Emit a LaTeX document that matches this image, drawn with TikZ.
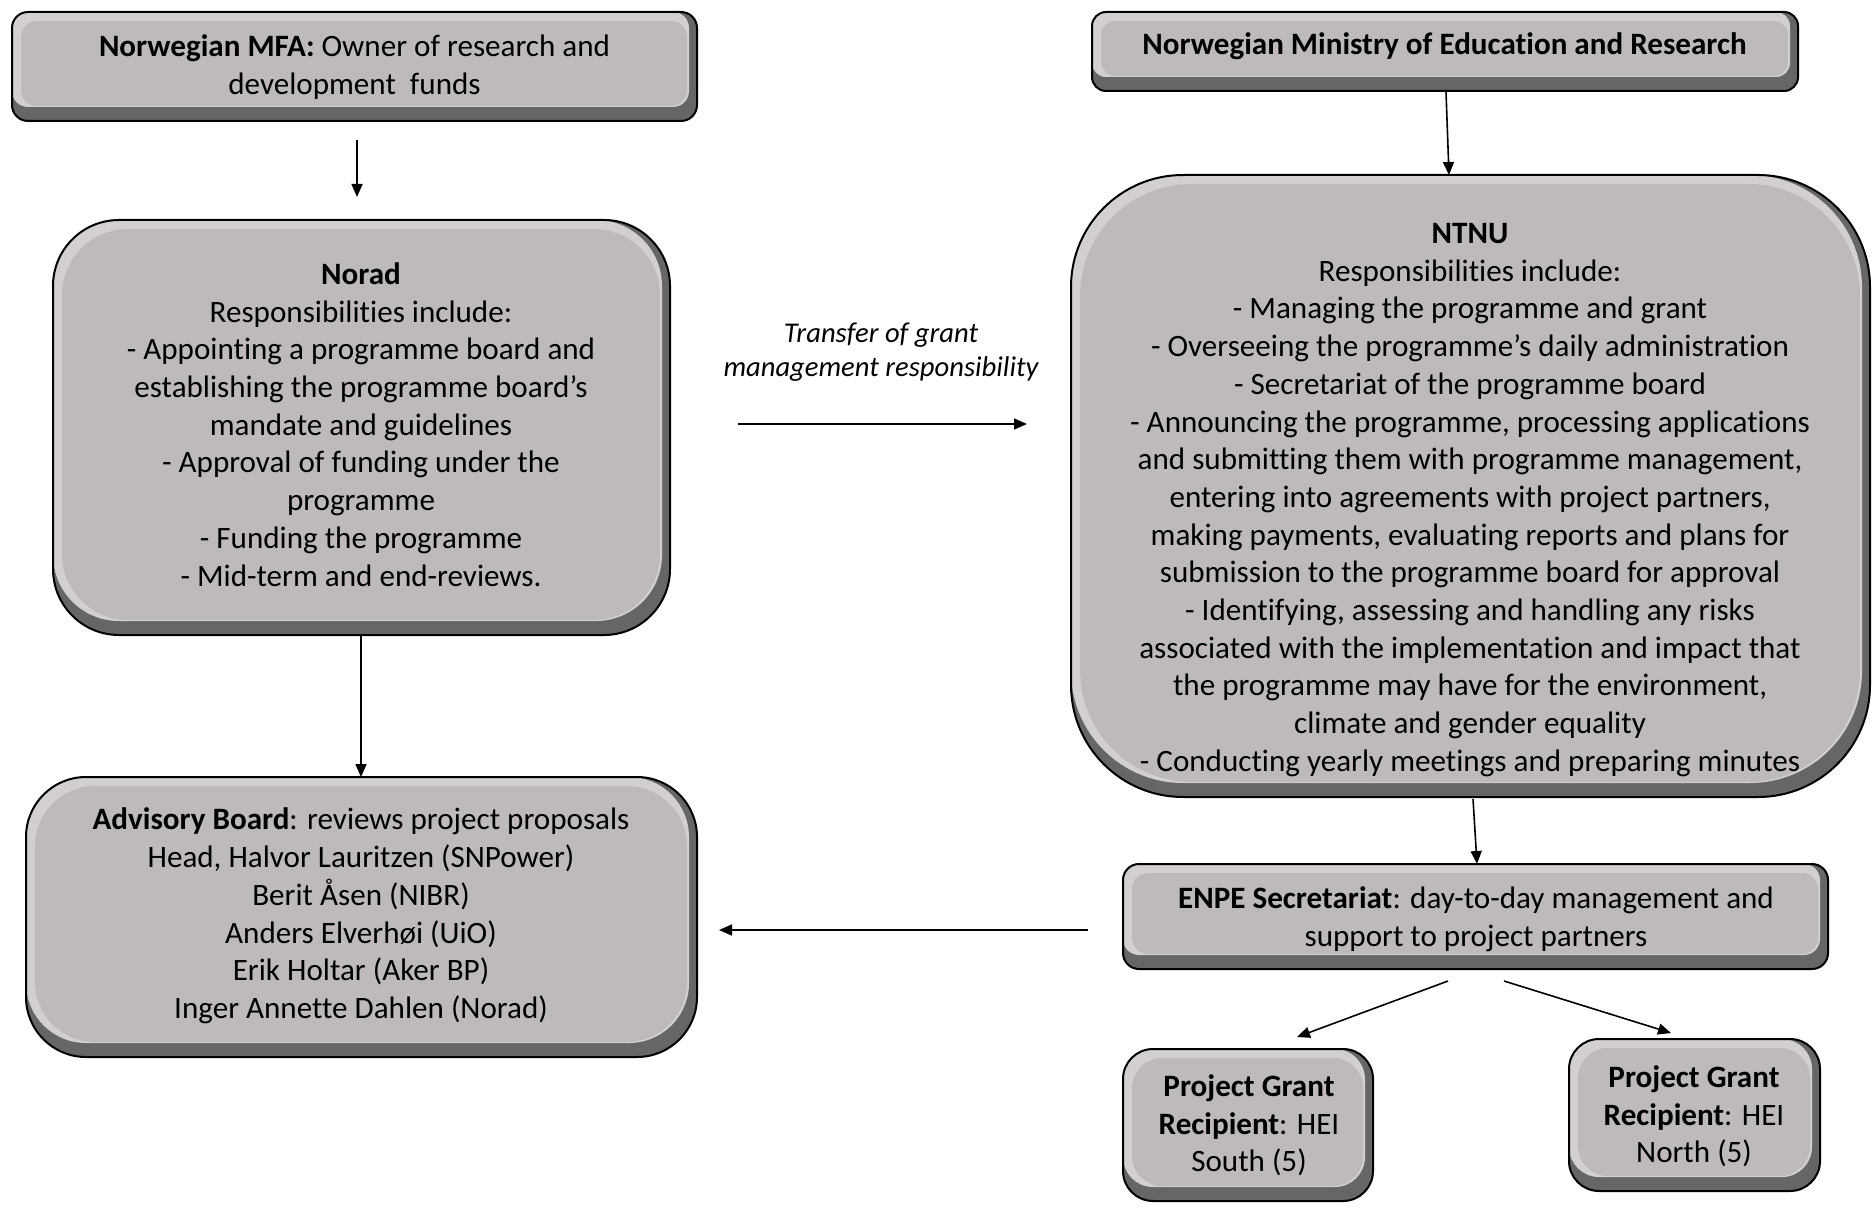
\documentclass[tikz,border=0pt]{standalone}
\usepackage{fontspec}
\setmainfont{Carlito}[Ligatures=NoCommon]
\usetikzlibrary{arrows.meta}
\definecolor{bevface}{RGB}{190,186,185}
\definecolor{bevlight}{RGB}{210,207,206}
\definecolor{bevdark}{RGB}{102,102,102}
\tikzset{
  bev/.style={draw=black, line width=1pt, fill=bevdark, rounded corners=#1, inner sep=0pt,
    path picture={
      \fill[bevlight, rounded corners=#1] (path picture bounding box.north west) rectangle ([xshift=-4pt,yshift=7pt]path picture bounding box.south east);
      \fill[bevface, rounded corners=#1] ([xshift=4.5pt,yshift=-4.5pt]path picture bounding box.north west) rectangle ([xshift=-5pt,yshift=7.5pt]path picture bounding box.south east);
    }},
  txt/.style={align=center, inner sep=0pt, font=\fontsize{15.55}{18.85}\selectfont},
  lbl/.style={align=center, inner sep=0pt, font=\fontsize{14.3}{17.3}\selectfont\itshape},
  arr/.style={draw=black, line width=0.8pt, -{Triangle[length=6.5pt,width=5.5pt]}}
}
\begin{document}
\begin{tikzpicture}[x=0.5pt,y=-0.5pt]
\useasboundingbox (0,0) rectangle (1872,1208);
% boxes
\node[bev=8pt, minimum width=342.5pt, minimum height=54.5pt] (mfa) at (354.5,66.5) {};
\node[bev=7pt, minimum width=353pt, minimum height=39.5pt] (min) at (1445,51.5) {};
\node[bev=33pt, minimum width=308.5pt, minimum height=207.5pt] (norad) at (361.5,427.5) {};
\node[bev=56pt, minimum width=399.5pt, minimum height=311pt] (ntnu) at (1470.5,486) {};
\node[bev=30pt, minimum width=335.5pt, minimum height=140pt] (adv) at (361.5,917) {};
\node[bev=8pt, minimum width=352.5pt, minimum height=52.5pt] (enpe) at (1475.5,916.5) {};
\node[bev=15pt, minimum width=125pt, minimum height=76pt] (south) at (1248,1125) {};
\node[bev=15pt, minimum width=125.5pt, minimum height=76pt] (north) at (1694.5,1115) {};
% texts
\node[txt] (mfa-t) at (354.5,67) {\textbf{Norwegian MFA:} Owner of research and\\development\ \ funds};
\node[txt] (min-t) at (1444.5,46.5) {\textbf{Norwegian Ministry of Education and Research}};
\node[txt] (norad-t) at (361,424.5) {\textbf{Norad}\\Responsibilities include:\\- Appointing a programme board and\\establishing the programme board’s\\mandate and guidelines\\- Approval of funding under the\\programme\\- Funding the programme\\- Mid-term and end-reviews.};
\node[txt] (ntnu-t) at (1470,500) {\textbf{NTNU}\\Responsibilities include:\\- Managing the programme and grant\\- Overseeing the programme’s daily administration\\- Secretariat of the programme board\\- Announcing the programme, processing applications\\and submitting them with programme management,\\entering into agreements with project partners,\\making payments, evaluating reports and plans for\\submission to the programme board for approval\\- Identifying, assessing and handling any risks\\associated with the implementation and impact that\\the programme may have for the environment,\\climate and gender equality\\- Conducting yearly meetings and preparing minutes};
\node[txt] (adv-t) at (361,916) {\textbf{Advisory Board}: reviews project proposals\\Head, Halvor Lauritzen (SNPower)\\Berit Åsen (NIBR)\\Anders Elverhøi (UiO)\\Erik Holtar (Aker BP)\\Inger Annette Dahlen (Norad)};
\node[txt] (enpe-t) at (1476,919.5) {\textbf{ENPE Secretariat}: day-to-day management and\\support to project partners};
\node[txt] (south-t) at (1249,1125.5) {\textbf{Project Grant}\\\textbf{Recipient}: HEI\\South (5)};
\node[txt] (north-t) at (1694,1116.5) {\textbf{Project Grant}\\\textbf{Recipient}: HEI\\North (5)};
\node[lbl] (xfer) at (881,352) {Transfer of grant\\management responsibility};
% connector ends
\coordinate (a1) at (357,140);
\coordinate (a2) at (357,197);
\coordinate (b1) at (1446,92);
\coordinate (b2) at (1449,175);
\coordinate (c1) at (361,636);
\coordinate (c2) at (361,777);
\coordinate (d1) at (738,424);
\coordinate (d2) at (1027,424);
\coordinate (e1) at (1473,799);
\coordinate (e2) at (1477,864);
\coordinate (f1) at (1088,930);
\coordinate (f2) at (719,930);
\coordinate (g1) at (1448,981);
\coordinate (g2) at (1297,1037);
\coordinate (h1) at (1504,981);
\coordinate (h2) at (1671,1033);
\draw[arr] (a1) -- (a2);
\draw[arr] (b1) -- (b2);
\draw[arr] (c1) -- (c2);
\draw[arr] (d1) -- (d2);
\draw[arr] (e1) -- (e2);
\draw[arr] (f1) -- (f2);
\draw[arr] (g1) -- (g2);
\draw[arr] (h1) -- (h2);
\end{tikzpicture}
\end{document}
